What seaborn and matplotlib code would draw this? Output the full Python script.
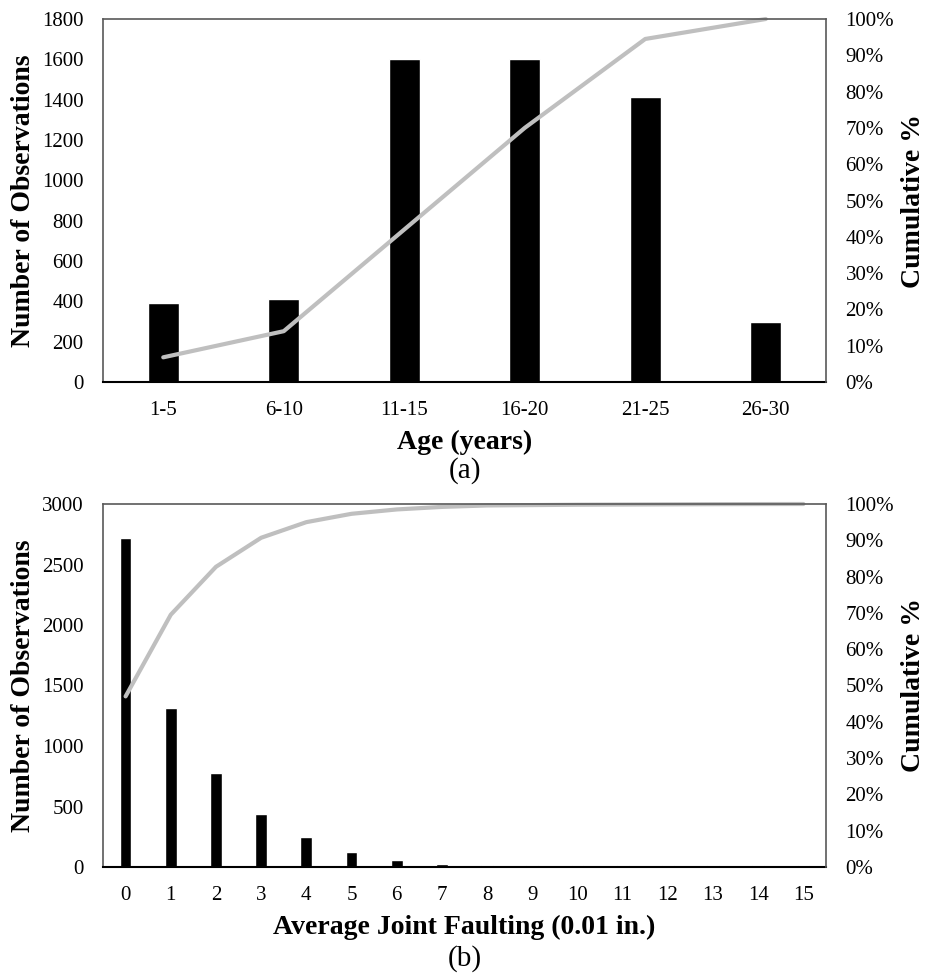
import matplotlib
matplotlib.use("Agg")
import matplotlib.pyplot as plt
import seaborn as sns
import numpy as np
from matplotlib.ticker import PercentFormatter

# ---- data (panel a) ----
age_cats = ["1-5", "6-10", "11-15", "16-20", "21-25", "26-30"]
age_counts = [390, 410, 1600, 1600, 1415, 300]
age_cum = [0.068, 0.14, 0.42, 0.70, 0.945, 1.00]

# ---- data (panel b) ----
fault_cats = [str(i) for i in range(16)]
fault_counts = [2720, 1310, 780, 440, 250, 120, 60, 25, 18, 18, 18, 18, 18, 18, 18, 18]
fault_cum = [0.47, 0.695, 0.827, 0.907, 0.95, 0.973, 0.985, 0.992, 0.996,
             0.997, 0.998, 0.9985, 0.999, 0.9995, 0.9998, 1.00]

sns.set_theme(style="white")
plt.rcParams['font.family'] = ['Liberation Serif', 'DejaVu Serif']
plt.rcParams['text.color'] = 'black'
plt.rcParams['axes.labelcolor'] = 'black'
plt.rcParams['xtick.color'] = 'black'
plt.rcParams['ytick.color'] = 'black'

W, H = 927, 977
fig = plt.figure(figsize=(W / 100, H / 100), dpi=100)

def fx(px):
    return px / W

def fy(px):
    return 1 - px / H

LINE_COLOR = "#BFBFBF"
FRAME = "#595959"
TICK_FS = 15
LAB_FS = 20


def panel(rect, cats, counts, cum, ymax, ystep, xlabel, tag, tag_y):
    ax = fig.add_axes(rect)
    sns.barplot(x=cats, y=counts, order=cats, color="black", width=0.26,
                saturation=1, ax=ax, zorder=2)
    ax.set_ylim(0, ymax)
    ax.set_yticks(np.arange(0, ymax + 1, ystep))
    ax.set_xlim(-0.5, len(cats) - 0.5)
    ax.tick_params(axis='both', length=0, labelsize=TICK_FS, pad=14)
    ax.set_ylabel("Number of Observations", fontsize=LAB_FS, fontweight='bold', labelpad=4)
    ax.set_xlabel(xlabel, fontsize=LAB_FS, fontweight='bold', labelpad=7)
    for s in ["top", "right"]:
        ax.spines[s].set_visible(False)
    ax.spines["left"].set_color(FRAME)
    ax.spines["left"].set_linewidth(1.2)
    ax.spines["bottom"].set_color("black")
    ax.spines["bottom"].set_linewidth(1.5)
    ax.grid(False)

    ax2 = ax.twinx()
    sns.pointplot(x=cats, y=cum, order=cats, color=LINE_COLOR, markers="",
                  linestyles="-", ax=ax2)
    for ln in ax2.lines:
        ln.set_linewidth(3.0)
        ln.set_clip_on(False)
    ax2.set_ylim(0, 1)
    ax2.set_xlim(-0.5, len(cats) - 0.5)
    ax2.set_yticks(np.arange(0, 1.01, 0.1))
    ax2.yaxis.set_major_formatter(PercentFormatter(1.0, decimals=0))
    ax2.tick_params(axis='y', length=0, labelsize=TICK_FS, pad=14)
    ax2.set_ylabel("Cumulative %", fontsize=LAB_FS, fontweight='bold', labelpad=5)
    ax2.grid(False)
    for s in ["left", "bottom"]:
        ax2.spines[s].set_visible(False)
    for s in ["top", "right"]:
        ax2.spines[s].set_color(FRAME)
        ax2.spines[s].set_linewidth(1.2)
    ax2.set_xlabel(xlabel, fontsize=LAB_FS, fontweight='bold', labelpad=7)
    fig.text(rect[0] + rect[2] / 2, tag_y, tag, ha='center', va='center',
             fontsize=LAB_FS + 1, color='black')
    return ax, ax2


# axes rectangles from pixel positions
left, right = 103, 826
a_top, a_bot = 19, 382
b_top, b_bot = 504, 867

panel([fx(left), fy(a_bot), fx(right - left), (a_bot - a_top) / H],
      age_cats, age_counts, age_cum, 1800, 200, "Age (years)", "(a)", fy(471))
panel([fx(left), fy(b_bot), fx(right - left), (b_bot - b_top) / H],
      fault_cats, fault_counts, fault_cum, 3000, 500,
      "Average Joint Faulting (0.01 in.)", "(b)", fy(959))

fig.savefig("out.png", dpi=100)
